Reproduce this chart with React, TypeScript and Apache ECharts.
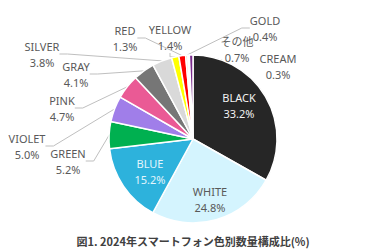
import React, { useEffect, useRef } from "react";
import * as echarts from "echarts";

const categories = ["BLACK", "WHITE", "BLUE", "GREEN", "VIOLET", "PINK", "GRAY", "SILVER", "YELLOW", "RED", "GOLD", "CREAM", "その他"];
const values = [33.2, 24.8, 15.2, 5.2, 5.0, 4.7, 4.1, 3.8, 1.4, 1.3, 0.4, 0.3, 0.7];
const colors = ["#262626", "#d4f4fe", "#2db2dc", "#00b050", "#a07ee9", "#ea5a95", "#767676", "#d9d9d9", "#ffff00", "#ff0000", "#f8cbad", "#fff2cc", "#7a2a8c"];

// label layout (style): centre of each label block, and whether it sits inside / has a leader line
const labelPos: [number, number][] = [
  [239, 105], [210, 199], [150, 171], [68, 161], [27, 146], [62, 108], [76, 74], [42, 54], [170, 37], [125, 38], [265, 28], [278, 66], [237, 49],
];
const insideIdx = [0, 1, 2];
const noLineIdx = [11, 12];
const labelColors: Record<number, string> = { 0: "#f2f2f2", 1: "#595959", 2: "#e3f5fc" };

export default function App() {
  const ref = useRef<HTMLDivElement>(null);
  useEffect(() => {
    document.body.style.margin = "0";
    const chart = echarts.init(ref.current!, undefined, { renderer: "svg" });
    const data = categories.map((name, i) => ({
      name,
      value: values[i],
      itemStyle: { color: colors[i] },
      label: {
        position: insideIdx.includes(i) ? "inside" : "outside",
        color: labelColors[i] ?? "#595959",
      },
      labelLine: { show: !insideIdx.includes(i) && !noLineIdx.includes(i) },
    }));
    chart.setOption({
      animation: false,
      backgroundColor: "#ffffff",
      title: {
        text: "図1. 2024年スマートフォン色別数量構成比(%)",
        left: "center",
        top: 230,
        textStyle: {
          fontSize: 11,
          fontWeight: "bold",
          color: "#404040",
          fontFamily: "'Noto Sans CJK JP', 'Noto Sans', sans-serif",
        },
      },
      series: [
        {
          type: "pie",
          center: [193, 139],
          radius: 84,
          startAngle: 90,
          clockwise: true,
          avoidLabelOverlap: false,
          itemStyle: { borderColor: "#ffffff", borderWidth: 1.5 },
          label: {
            show: true,
            fontSize: 11,
            lineHeight: 16,
            fontFamily: "'Noto Sans', 'Noto Sans CJK JP', sans-serif",
            align: "center",
            formatter: (p: any) => `${p.name}\n${p.value.toFixed(1)}%`,
          },
          labelLine: {
            show: true,
            length: 8,
            length2: 8,
            lineStyle: { color: "#bfbfbf", width: 1 },
          },
          labelLayout: (params: any) => {
            const pos = labelPos[params.dataIndex];
            return { x: pos[0], y: pos[1], align: "center", verticalAlign: "middle" };
          },
          data,
        },
      ],
    });
    return () => chart.dispose();
  }, []);
  return <div ref={ref} style={{ width: 386, height: 250 }} />;
}
